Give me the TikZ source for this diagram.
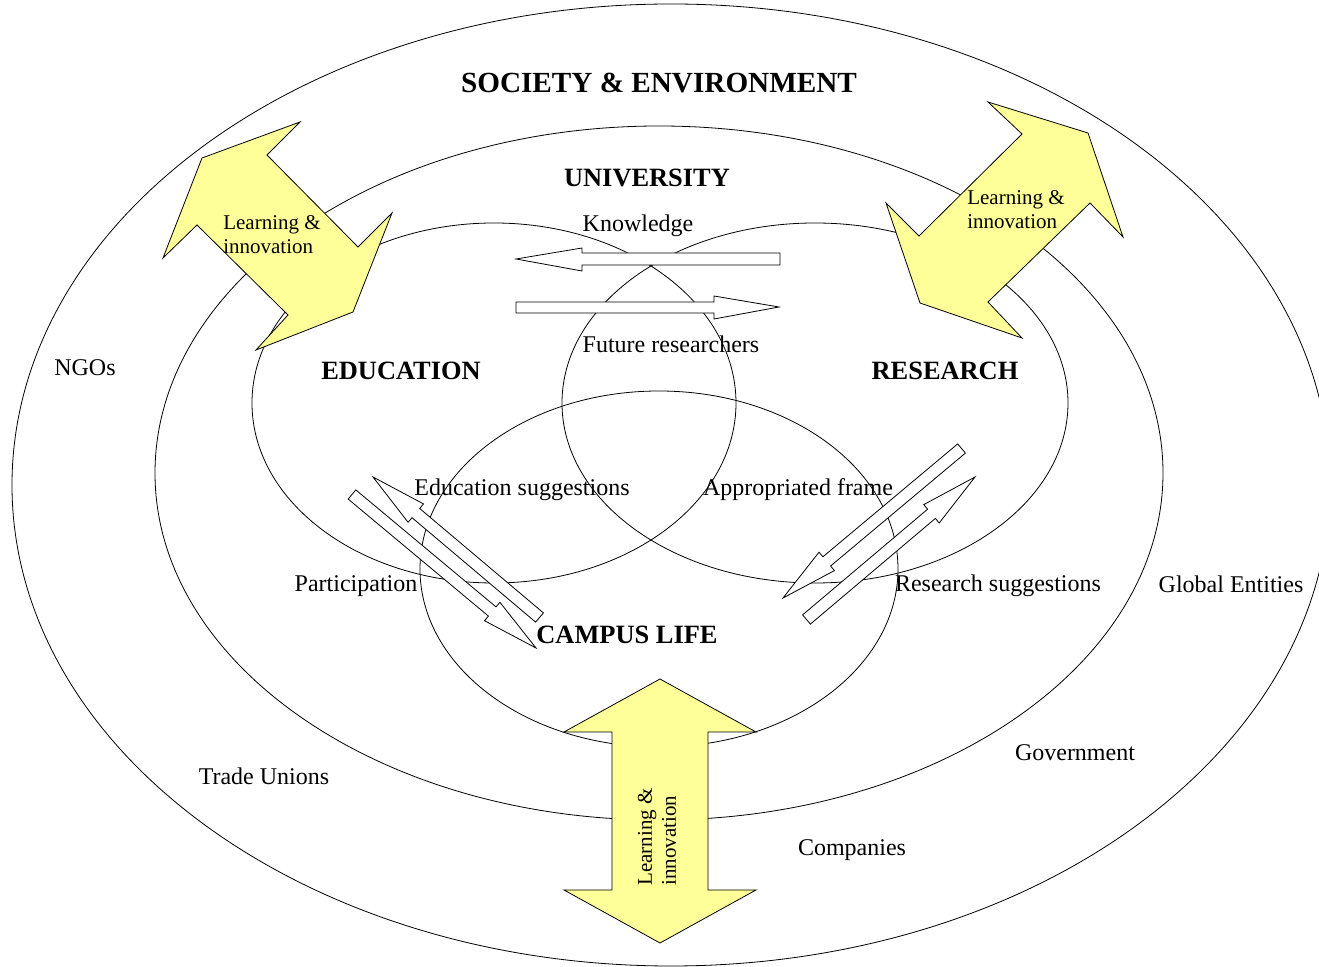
\documentclass[tikz,border=0pt]{standalone}
\usepackage{fontspec}
\setmainfont{Liberation Serif}
\usepackage{tikz}
\pgfdeclarelayer{bg}
\pgfsetlayers{bg,main}
\definecolor{lightyellow}{RGB}{255,255,153}

\begin{document}
\begin{tikzpicture}[x=0.5pt, y=-0.5pt, line width=1.2pt,
    big/.style={font=\fontsize{14.6}{17}\selectfont\bfseries},
    area/.style={font=\fontsize{13.2}{16}\selectfont\bfseries},
    lbl/.style={font=\fontsize{12}{14}\selectfont},
    inno/.style={font=\fontsize{10.5}{12}\selectfont, align=left},
    yarrow/.style={draw, fill=lightyellow, line join=miter},
    warrow/.style={draw, fill=white, line join=miter}]
    \useasboundingbox (0,0) rectangle (1319,967);

    \begin{pgfonlayer}{bg}    % the rings go behind the arrows
        \draw (671,485) ellipse [x radius=659, y radius=481];
        \draw (659,473) ellipse [x radius=504, y radius=347];
        \draw (494,403) ellipse [x radius=242, y radius=180];
        \draw (815,403) ellipse [x radius=253, y radius=180];
        \draw (659,569) ellipse [x radius=239, y radius=178];
    \end{pgfonlayer}

    \draw[yarrow] (202,158) -- (300,122) -- (267,155) -- (358,247) -- (392,213) -- (353,312)
        -- (256,350) -- (288,315) -- (197,225) -- (163,258) -- cycle;
    \draw[yarrow] (1088,133) -- (1123,237) -- (1090,203) -- (988,302) -- (1022,338) -- (920,303)
        -- (886,203) -- (919,236) -- (1022,134) -- (988,102) -- cycle;
    \draw[yarrow] (660,679) -- (756,732) -- (708,732) -- (708,890) -- (756,890) -- (660,943)
        -- (564,890) -- (612,890) -- (612,732) -- (564,732) -- cycle;

    \draw[warrow] (516,259) -- (582,248) -- (582,253) -- (780,253) -- (780,265) -- (582,265) -- (582,271) -- cycle;
    \draw[warrow] (779,307) -- (714,319) -- (714,313) -- (516,313) -- (516,302) -- (714,302) -- (714,296) -- cycle;
    \draw[warrow] (373,477) -- (423.5,503.9) -- (419.7,508.5) -- (543.4,612.9) -- (535.6,622.1)
        -- (412.0,517.7) -- (408.1,522.3) -- cycle;
    \draw[warrow] (536,648) -- (484.5,620.7) -- (488.4,616.1) -- (348.2,499.1) -- (355.8,489.9)
        -- (496.0,606.9) -- (499.9,602.3) -- cycle;
    \draw[warrow] (783,598) -- (819.0,552.2) -- (822.9,556.8) -- (957.7,443.9) -- (965.4,453.1)
        -- (830.6,566.0) -- (834.4,570.6) -- cycle;
    \draw[warrow] (975,477) -- (939.2,523.0) -- (935.4,518.4) -- (810.4,624.1) -- (802.6,614.9)
        -- (927.6,509.2) -- (923.8,504.6) -- cycle;

    \node[big] (society) at (659,83) {SOCIETY \& ENVIRONMENT};
    \node[area] (university) at (647,178) {UNIVERSITY};
    \node[area] (education) at (401,371) {EDUCATION};
    \node[area] (research) at (945,371) {RESEARCH};
    \node[area] (campus) at (627,635) {CAMPUS LIFE};
    \node[lbl] (knowledge) at (638,226) {Knowledge};
    \node[lbl] (future) at (671,344) {Future researchers};
    \node[lbl] (edusugg) at (522,490) {Education suggestions};
    \node[lbl] (frame) at (798,490) {Appropriated frame};
    \node[lbl] (particip) at (356,586) {Participation};
    \node[lbl] (ressugg) at (998,586) {Research suggestions};
    \node[lbl] (global) at (1231,584) {Global Entities};
    \node[lbl] (ngos) at (85,368) {NGOs};
    \node[lbl] (unions) at (264,776) {Trade Unions};
    \node[lbl] (government) at (1075,753) {Government};
    \node[lbl] (companies) at (852,850) {Companies};
    \node[inno] (innoleft) at (272,235) {Learning \&\\innovation};
    \node[inno] (innoright) at (1016,210) {Learning \&\\innovation};
    \node[inno, rotate=90] (innobottom) at (657,837) {Learning \&\\innovation};
\end{tikzpicture}
\end{document}
